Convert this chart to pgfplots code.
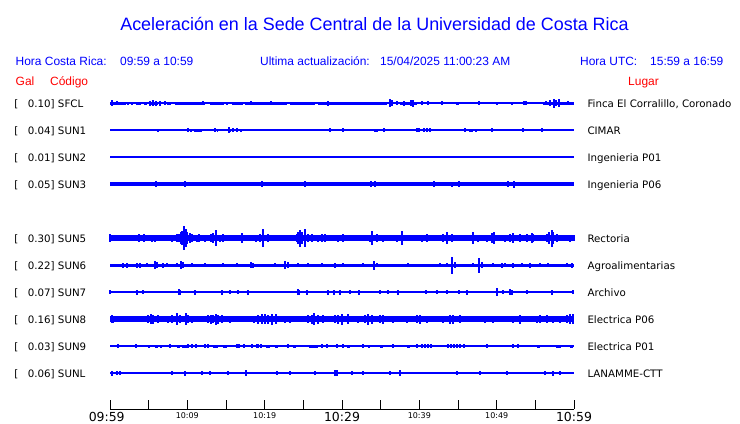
\documentclass[border=0pt]{standalone}
\usepackage{pgfplots}
\pgfplotsset{compat=1.18}
\usepackage{fontspec}
\setmainfont{Liberation Sans}
\newfontfamily\dv{DejaVu Sans}
\definecolor{sig}{RGB}{0,0,255}
\definecolor{hdr}{RGB}{0,0,255}
\definecolor{lab}{RGB}{255,0,0}
\pgfplotsset{
  base/.style={sig, line width=#1, no markers, unbounded coords=jump},
  spk/.style={draw=none, no markers, error bars/.cd, y dir=both, y explicit, error mark=none,
     error bar style={draw=sig, line width=1.1bp, solid}},
}
\newcommand\lab[4]{%
  \node[anchor=base west,inner sep=0,font=\dv\fontsize{10.3}{12}\selectfont] at (14.3,#1) {[};
  \node[anchor=base west,inner sep=0,font=\dv\fontsize{10.3}{12}\selectfont] at (27.7,#1) {#2] #3};
  \node[anchor=base west,inner sep=0,font=\dv\fontsize{10.3}{12}\selectfont] at (587.3,#1) {#4};}
\begin{document}
\begin{tikzpicture}
\begin{scope}[x=1bp,y=-1bp]
\path[use as bounding box] (0,0) rectangle (740,423);
\end{scope}
\begin{axis}[at={(110bp,0bp)}, anchor=north west, scale only axis,
  width=464bp, height=409bp, xmin=0, xmax=60, ymin=0, ymax=409,
  axis x line*=bottom, axis y line=none, clip=false,
  xtick={0,5,...,60}, tick align=inside, major tick length=9bp,
  tick style={black, line width=0.9bp}, axis line style={black, line width=0.9bp},
  xticklabel style={anchor=north, inner sep=0pt, yshift=-3bp, font=\dv},
  xticklabels={{\fontsize{12.5}{13}\selectfont\hspace*{-6.6bp}09:59},{},{\fontsize{8}{9}\selectfont 10:09},{},
    {\fontsize{8}{9}\selectfont 10:19},{},{\fontsize{12.5}{13}\selectfont 10:29},{},
    {\fontsize{8}{9}\selectfont 10:39},{},{\fontsize{8}{9}\selectfont 10:49},{},{\fontsize{12.5}{13}\selectfont 10:59}},
]
% ---------------- SFCL (y=306)
\addplot[base=1.1bp] coordinates {(0,306)(60,306)};
\addplot[base=3bp] coordinates {(0,306)(2.07,306)(2.1,nan)(2.20,306)(2.46,306)(2.5,nan)(2.72,306)(2.97,306)(3.0,nan)
 (3.36,306)(4.01,306)(4.1,nan)(4.40,306)(4.78,306)(4.9,nan)(5.17,306)(6.21,306)(6.3,nan)(6.98,306)(7.11,306)(7.2,nan)
 (7.37,306)(7.89,306)(8.0,nan)(8.41,306)(12.28,306)(12.5,nan)(12.93,306)(14.74,306)(14.8,nan)(15.00,306)(15.26,306)(15.5,nan)
 (15.78,306)(17.20,306)(17.3,nan)(17.46,306)(22.89,306)(23.0,nan)(23.28,306)(26.51,306)(26.6,nan)(26.90,306)(35.82,306)(36,nan)
 (37.50,306)(39.70,306)(39.9,nan)(40.22,306)(40.47,306)(41,nan)(44.74,306)(45.13,306)(46,nan)(55.99,306)(60,306)};
\addplot[spk] coordinates {(0.26,306)+-(0,3) (0.91,306)+-(0,2) (5.17,306)+-(0,2.5) (5.56,306)+-(0,3) (5.95,306)+-(0,2.5)
 (6.47,306)+-(0,2.5) (7.11,306)+-(0,2) (12.03,306)+-(0,2) (13.71,306)+-(0,1.5) (18.23,306)+-(0,2) (20.82,306)+-(0,2)
 (25.22,306)+-(0,1.5) (28.19,306)+-(0,2.5) (36.21,306)+-(0,4) (36.47,306)+-(0,3) (37.11,306)+-(0,2) (38.02,306)+-(0,2.5)
 (38.92,306)+-(0,3) (39.18,306)+-(0,3.5) (40.34,306)+-(0,2) (41.12,306)+-(0,2) (42.93,306)+-(0,2) (47.72,306)+-(0,2)
 (50.04,306)+-(0,1.5) (51.98,306)+-(0,1.5) (53.53,306)+-(0,2) (53.79,306)+-(0,2) (56.38,306)+-(0,2) (56.90,306)+-(0,3)
 (57.41,306)+-(0,4.5) (57.67,306)+-(0,3) (58.06,306)+-(0,4) (59.22,306)+-(0,2)};
% ---------------- SUN1 (y=279)
\addplot[base=1.1bp] coordinates {(0,279)(60,279)};
\addplot[base=3bp] coordinates {(6.08,279)(6.34,279)(6.5,nan)(10.34,279)(10.60,279)(10.7,nan)(10.86,279)(11.90,279)(12,nan)
 (13.84,279)(13.97,279)(14,nan)(15.26,279)(15.65,279)(16,nan)(16.81,279)(17.07,279)(18,nan)(34.14,279)(34.66,279)(35,nan)
 (46.42,279)(46.94,279)(47,nan)(47.20,279)(47.46,279)};
\addplot[spk] coordinates {(10.09,279)+-(0,2) (13.58,279)+-(0,2) (15.39,279)+-(0,3) (15.90,279)+-(0,2) (16.42,279)+-(0,2)
 (28.45,279)+-(0,2) (30.13,279)+-(0,2) (35.43,279)+-(0,2) (39.70,279)+-(0,2) (39.96,279)+-(0,2) (40.60,279)+-(0,2)
 (40.99,279)+-(0,2) (41.38,279)+-(0,2) (45.91,279)+-(0,2) (49.40,279)+-(0,2) (53.41,279)+-(0,2) (55.86,279)+-(0,2)};
% ---------------- SUN2 (y=252)
\addplot[base=1.1bp] coordinates {(0,252)(60,252)};
% ---------------- SUN3 (y=225)
\addplot[base=3.5bp] coordinates {(0,225)(60,225)};
\addplot[spk] coordinates {(5.95,225)+-(0,3) (9.70,225)+-(0,3) (19.66,225)+-(0,3) (25.22,225)+-(0,3) (33.75,225)+-(0,3)
 (34.27,225)+-(0,3) (36.72,225)+-(0,2) (41.90,225)+-(0,3) (44.22,225)+-(0,2.5) (45.13,225)+-(0,3) (51.47,225)+-(0,3)
 (52.24,225)+-(0,3.5)};
% ---------------- SUN5 (y=171)
\addplot[base=5.5bp] coordinates {(0,171)(60,171)};
\addplot[spk] coordinates {(0,171)+-(0,4) (0.65,171)+-(0,3) (1.94,171)+-(0,3) (2.59,171)+-(0,3) (3.75,171)+-(0,4)
 (4.40,171)+-(0,4) (5.43,171)+-(0,3.5) (5.82,171)+-(0,3.5) (6.47,171)+-(0,3) (6.85,171)+-(0,3) (7.50,171)+-(0,3)
 (8.02,171)+-(0,3.5) (8.66,171)+-(0,4) (8.92,171)+-(0,4) (9.18,171)+-(0,6) (9.31,171)+-(0,7) (9.57,171)+-(0,12)
 (9.83,171)+-(0,9) (9.96,171)+-(0,6) (10.34,171)+-(0,5) (10.60,171)+-(0,4) (11.25,171)+-(0,3.5) (11.51,171)+-(0,4)
 (12.28,171)+-(0,3.5) (13.06,171)+-(0,4) (13.32,171)+-(0,5) (13.71,171)+-(0,8) (14.22,171)+-(0,3.5) (14.61,171)+-(0,4)
 (15.78,171)+-(0,3) (17.07,171)+-(0,5) (17.84,171)+-(0,3) (18.88,171)+-(0,3.5) (19.40,171)+-(0,4) (19.78,171)+-(0,9)
 (20.43,171)+-(0,4) (21.34,171)+-(0,3) (22.37,171)+-(0,3) (23.02,171)+-(0,3) (24.18,171)+-(0,4) (24.31,171)+-(0,6)
 (24.57,171)+-(0,8.5) (24.83,171)+-(0,6) (25.22,171)+-(0,9) (25.60,171)+-(0,4) (26.12,171)+-(0,4) (26.90,171)+-(0,3.5)
 (27.41,171)+-(0,4) (27.80,171)+-(0,4) (28.71,171)+-(0,3) (29.48,171)+-(0,3.5) (30.13,171)+-(0,4) (31.03,171)+-(0,3)
 (32.33,171)+-(0,3) (33.62,171)+-(0,3.5) (33.88,171)+-(0,7) (34.53,171)+-(0,4) (35.30,171)+-(0,3.5) (36.47,171)+-(0,3)
 (37.11,171)+-(0,3.5) (37.76,171)+-(0,7) (38.79,171)+-(0,3) (39.44,171)+-(0,3) (40.34,171)+-(0,3.5) (40.99,171)+-(0,4)
 (42.28,171)+-(0,3) (43.06,171)+-(0,4) (43.58,171)+-(0,6) (44.22,171)+-(0,4) (45.00,171)+-(0,3) (45.65,171)+-(0,3)
 (46.94,171)+-(0,6) (47.59,171)+-(0,3.5) (48.75,171)+-(0,3.5) (49.40,171)+-(0,5) (49.66,171)+-(0,6) (50.43,171)+-(0,3)
 (51.08,171)+-(0,3.5) (51.72,171)+-(0,4) (52.11,171)+-(0,5) (53.02,171)+-(0,4) (53.92,171)+-(0,4) (54.57,171)+-(0,5)
 (54.70,171)+-(0,4) (55.60,171)+-(0,3) (56.51,171)+-(0,4) (56.77,171)+-(0,6) (57.16,171)+-(0,8.5) (57.28,171)+-(0,6)
 (57.80,171)+-(0,4) (58.58,171)+-(0,3) (59.48,171)+-(0,3.5) (60,171)+-(0,3)};
% ---------------- SUN6 (y=144)
\addplot[base=3bp] coordinates {(0,144)(60,144)};
\addplot[spk] coordinates {(1.68,144)+-(0,2.5) (2.20,144)+-(0,2.5) (3.49,144)+-(0,2.5) (3.88,144)+-(0,2.5) (4.78,144)+-(0,2)
 (5.82,144)+-(0,4) (6.08,144)+-(0,3) (6.85,144)+-(0,2.5) (7.37,144)+-(0,2) (8.66,144)+-(0,2) (9.18,144)+-(0,4)
 (9.44,144)+-(0,3) (10.60,144)+-(0,2) (12.28,144)+-(0,2) (14.61,144)+-(0,2) (16.42,144)+-(0,2) (18.23,144)+-(0,3)
 (18.49,144)+-(0,2.5) (21.34,144)+-(0,2) (22.63,144)+-(0,4) (23.02,144)+-(0,3) (24.31,144)+-(0,2) (25.60,144)+-(0,2)
 (27.41,144)+-(0,2) (29.09,144)+-(0,2.5) (30.13,144)+-(0,2) (32.72,144)+-(0,2) (34.14,144)+-(0,4.5) (34.53,144)+-(0,2)
 (36.59,144)+-(0,1.5) (38.53,144)+-(0,2) (42.67,144)+-(0,2) (43.58,144)+-(0,2) (44.22,144)+-(0,8.5) (44.61,144)+-(0,3)
 (46.94,144)+-(0,2) (47.72,144)+-(0,7.5) (48.10,144)+-(0,3) (49.53,144)+-(0,2) (50.69,144)+-(0,2.5) (51.08,144)+-(0,2)
 (52.11,144)+-(0,2.5) (53.28,144)+-(0,2) (54.31,144)+-(0,2.5) (55.60,144)+-(0,2) (56.64,144)+-(0,2) (59.09,144)+-(0,2)
 (59.74,144)+-(0,2.5)};
% ---------------- SUN7 (y=117)
\addplot[base=2.7bp] coordinates {(0,117)(60,117)};
\addplot[spk] coordinates {(0,117)+-(0,2) (3.49,117)+-(0,2.5) (4.27,117)+-(0,2) (8.92,117)+-(0,3) (9.05,117)+-(0,2.5)
 (10.99,117)+-(0,2.5) (14.48,117)+-(0,2.5) (15.52,117)+-(0,2) (16.55,117)+-(0,2) (17.84,117)+-(0,2.5) (24.31,117)+-(0,3)
 (24.44,117)+-(0,2.5) (25.47,117)+-(0,2.5) (28.19,117)+-(0,2.5) (28.97,117)+-(0,2.5) (29.74,117)+-(0,2.5) (31.03,117)+-(0,2)
 (32.20,117)+-(0,2.5) (34.91,117)+-(0,2) (35.95,117)+-(0,2) (37.24,117)+-(0,2.5) (40.86,117)+-(0,2) (42.28,117)+-(0,2)
 (43.58,117)+-(0,2) (45.13,117)+-(0,2) (46.16,117)+-(0,2.5) (50.04,117)+-(0,4) (50.82,117)+-(0,2) (51.72,117)+-(0,3)
 (51.98,117)+-(0,2.5) (53.92,117)+-(0,2) (57.16,117)+-(0,2.5) (59.87,117)+-(0,2)};
% ---------------- SUN8 (y=90)
\addplot[base=5.5bp] coordinates {(0,90)(60,90)};
\addplot[spk] coordinates {(0.26,90)+-(0,4) (0.39,90)+-(0,3.5) (1.94,90)+-(0,3) (3.62,90)+-(0,3) (4.91,90)+-(0,4)
 (5.30,90)+-(0,5) (5.56,90)+-(0,4.5) (6.21,90)+-(0,4) (7.50,90)+-(0,3.5) (8.02,90)+-(0,4) (8.66,90)+-(0,6) (9.05,90)+-(0,4)
 (9.83,90)+-(0,6) (10.09,90)+-(0,4) (10.60,90)+-(0,3.5) (11.90,90)+-(0,3) (12.67,90)+-(0,4) (13.06,90)+-(0,4.5)
 (13.32,90)+-(0,4) (13.71,90)+-(0,5.5) (13.97,90)+-(0,4.5) (14.48,90)+-(0,4) (15.52,90)+-(0,3.5) (16.55,90)+-(0,3)
 (17.84,90)+-(0,3) (18.62,90)+-(0,3.5) (19.14,90)+-(0,4.5) (19.66,90)+-(0,5) (20.04,90)+-(0,5) (20.43,90)+-(0,4.5)
 (20.95,90)+-(0,5.5) (21.47,90)+-(0,5) (22.63,90)+-(0,3.5) (23.28,90)+-(0,3.5) (24.18,90)+-(0,3) (25.60,90)+-(0,4)
 (26.12,90)+-(0,4.5) (26.38,90)+-(0,6) (26.90,90)+-(0,4.5) (27.54,90)+-(0,4) (29.09,90)+-(0,4) (29.48,90)+-(0,4.5)
 (30.00,90)+-(0,5.5) (30.78,90)+-(0,5) (32.07,90)+-(0,3.5) (32.97,90)+-(0,4) (33.36,90)+-(0,5.5) (33.88,90)+-(0,4.5)
 (34.91,90)+-(0,4) (35.30,90)+-(0,4.5) (36.59,90)+-(0,3.5) (38.41,90)+-(0,3.5) (39.70,90)+-(0,4) (40.09,90)+-(0,4.5)
 (40.99,90)+-(0,3.5) (42.03,90)+-(0,3) (43.06,90)+-(0,3.5) (43.97,90)+-(0,4.5) (44.35,90)+-(0,4.5) (45.26,90)+-(0,4)
 (46.29,90)+-(0,3) (47.20,90)+-(0,3) (48.49,90)+-(0,3.5) (49.53,90)+-(0,3.5) (51.34,90)+-(0,3) (52.11,90)+-(0,3.5)
 (53.02,90)+-(0,4.5) (53.92,90)+-(0,3) (55.22,90)+-(0,3.5) (55.60,90)+-(0,4) (56.51,90)+-(0,4) (57.28,90)+-(0,3.5)
 (58.19,90)+-(0,3.5) (59.09,90)+-(0,4) (59.48,90)+-(0,5) (59.87,90)+-(0,5)};
% ---------------- SUN9 (y=63)
\addplot[base=1.1bp] coordinates {(0,63)(60,63)};
\addplot[base=3bp] coordinates {(5.82,63)(6.21,63)(6.3,nan)(6.47,63)(6.72,63)(7,nan)(8.66,63)(9.05,63)(9.1,nan)(9.31,63)(9.96,63)(10,nan)
 (13.32,63)(13.97,63)(14,nan)(14.61,63)(15.13,63)(16,nan)(20.17,63)(20.69,63)(21,nan)(21.34,63)(21.72,63)(22,nan)
 (23.66,63)(24.05,63)(25,nan)(25.73,63)(26.90,63)(27,nan)(30.65,63)(31.03,63)(32,nan)(33.36,63)(33.62,63)(34,nan)
 (34.91,63)(35.30,63)(36,nan)(38.41,63)(38.79,63)(40,nan)(55.22,63)(55.60,63)(56,nan)(57.67,63)(58.32,63)(59,nan)(59.48,63)(59.87,63)};
\addplot[spk] coordinates {(1.03,63)+-(0,2) (3.36,63)+-(0,2) (5.04,63)+-(0,1.5) (7.76,63)+-(0,2) (10.09,63)+-(0,2)
 (10.60,63)+-(0,2) (11.12,63)+-(0,2) (12.28,63)+-(0,2) (12.67,63)+-(0,2) (16.42,63)+-(0,2) (16.68,63)+-(0,2) (17.33,63)+-(0,2)
 (18.36,63)+-(0,2) (19.01,63)+-(0,2) (19.14,63)+-(0,2) (19.53,63)+-(0,2) (23.02,63)+-(0,2) (27.41,63)+-(0,2) (28.06,63)+-(0,2)
 (29.35,63)+-(0,2) (30.13,63)+-(0,2) (32.72,63)+-(0,2) (36.59,63)+-(0,2) (39.70,63)+-(0,2) (40.34,63)+-(0,2) (40.73,63)+-(0,2)
 (41.12,63)+-(0,2) (41.51,63)+-(0,2) (43.71,63)+-(0,2) (44.09,63)+-(0,2) (44.48,63)+-(0,2) (44.87,63)+-(0,2) (45.26,63)+-(0,2)
 (45.78,63)+-(0,2) (48.75,63)+-(0,2) (52.11,63)+-(0,2) (52.76,63)+-(0,2)};
% ---------------- SUNL (y=36)
\addplot[base=2.7bp] coordinates {(0,36)(60,36)};
\addplot[spk] coordinates {(0.26,36)+-(0,2.5) (0.91,36)+-(0,2) (1.29,36)+-(0,2) (8.02,36)+-(0,2) (9.70,36)+-(0,2.5)
 (11.90,36)+-(0,2) (12.93,36)+-(0,2) (15.26,36)+-(0,2) (17.59,36)+-(0,3) (21.60,36)+-(0,2) (23.28,36)+-(0,2) (26.51,36)+-(0,2)
 (29.09,36)+-(0,3) (29.35,36)+-(0,3) (31.29,36)+-(0,2) (32.72,36)+-(0,2) (36.21,36)+-(0,2) (37.50,36)+-(0,3) (44.87,36)+-(0,2)
 (47.84,36)+-(0,2) (51.34,36)+-(0,2) (56.25,36)+-(0,2) (57.28,36)+-(0,2.5) (58.19,36)+-(0,2)};
\end{axis}
\begin{scope}[x=1bp,y=-1bp]
\node[anchor=base,inner sep=0,hdr,font=\fontsize{18}{20}\selectfont] at (374.5,30)
  {Aceleración en la Sede Central de la Universidad de Costa Rica};
\begin{scope}[every node/.style={anchor=base west,inner sep=0,hdr,font=\fontsize{12}{14}\selectfont}]
\node at (15.5,65) {Hora Costa Rica:};
\node at (120,65) {09:59 a 10:59};
\node at (260,65) {Ultima actualización:};
\node at (380,65) {15/04/2025 11:00:23 AM};
\node at (580,65) {Hora UTC:};
\node at (650,65) {15:59 a 16:59};
\node[lab] at (15.5,85) {Gal};
\node[lab] at (50,85) {Código};
\node[lab] at (628,85) {Lugar};
\end{scope}
\lab{107}{0.10}{SFCL}{Finca El Corralillo, Coronado}
\lab{134}{0.04}{SUN1}{CIMAR}
\lab{161}{0.01}{SUN2}{Ingenieria P01}
\lab{188}{0.05}{SUN3}{Ingenieria P06}
\lab{242}{0.30}{SUN5}{Rectoria}
\lab{269}{0.22}{SUN6}{Agroalimentarias}
\lab{296}{0.07}{SUN7}{Archivo}
\lab{323}{0.16}{SUN8}{Electrica P06}
\lab{350}{0.03}{SUN9}{Electrica P01}
\lab{377}{0.06}{SUNL}{LANAMME-CTT}
\end{scope}
\end{tikzpicture}
\end{document}
